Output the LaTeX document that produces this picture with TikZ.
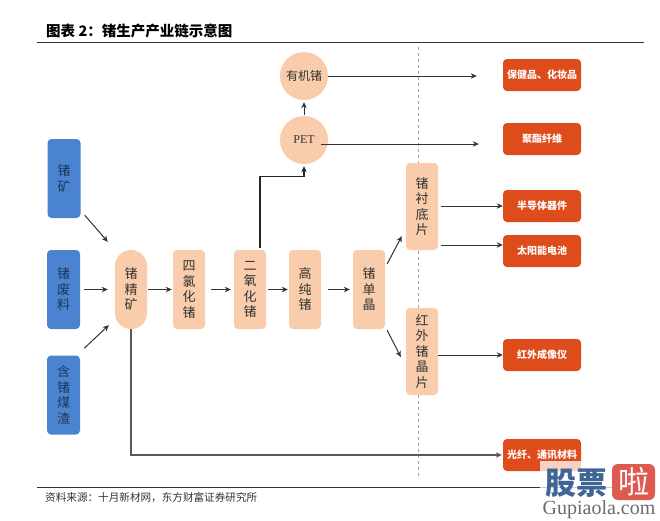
\documentclass[tikz,border=0pt]{standalone}
\usepackage{fontspec}
\setmainfont{Noto Sans CJK SC}
\newfontfamily\latinserif{Liberation Serif}
\usetikzlibrary{arrows.meta}
\definecolor{srcblue}{HTML}{4A84D0}
\definecolor{srctext}{HTML}{1E3558}
\definecolor{peach}{HTML}{F9CDAB}
\definecolor{prodred}{HTML}{DE4C1C}
\definecolor{inkdark}{HTML}{333333}
\definecolor{wmblue}{HTML}{3F6496}
\definecolor{wmred}{HTML}{DD5A50}
\tikzset{
  srcbox/.style={draw=none,fill=srcblue,rounded corners=4pt,minimum width=33pt,minimum height=79pt,inner sep=0pt,align=center,text=srctext,font=\fontsize{13}{15.5}\selectfont},
  stagebox/.style={draw=none,fill=peach,rounded corners=4pt,minimum width=32pt,minimum height=79pt,inner sep=0pt,align=center,text=inkdark,font=\fontsize{13}{15.5}\selectfont},
  tallbox/.style={stagebox,minimum height=87pt},
  capsule/.style={stagebox,rounded corners=15.9pt},
  roundnode/.style={circle,draw=none,fill=peach,minimum size=48pt,inner sep=0pt,text=inkdark,font=\fontsize{12}{14}\selectfont},
  prodbox/.style={draw=none,fill=prodred,rounded corners=4pt,minimum width=78pt,minimum height=32pt,inner sep=0pt,text=white,font=\fontsize{10}{12}\selectfont\bfseries},
  flow/.style={draw=inkdark,line width=1pt,-{Stealth[length=6pt,width=5.5pt]}},
  heavyflow/.style={flow,draw=black!85,line width=1.3pt},
  longflow/.style={flow,draw=black!65,line width=1.1pt},
  rule/.style={draw=inkdark,line width=0.9pt},
}
\begin{document}
\begin{tikzpicture}[x=1pt,y=-1pt]
\useasboundingbox (0,0) rectangle (660,520);
\fill[white] (0,0) rectangle (660,520);
% rules and divider
\coordinate (titleL) at (37,42); \coordinate (titleR) at (644,42);
\coordinate (footL) at (37,487); \coordinate (footR) at (644,487);
\coordinate (divT) at (418.5,47); \coordinate (divB) at (418.5,478);
\draw[rule] (titleL) -- (titleR);
\draw[rule] (footL) -- (footR);
\draw[draw=gray!70,line width=0.7pt,dashed] (divT) -- (divB);
% title and source
\node[anchor=west,inner sep=0pt,font=\fontsize{14.5}{16}\selectfont\bfseries,text=black] (title) at (46,31) {图表 2：锗生产产业链示意图};
\node[anchor=west,inner sep=0pt,font=\fontsize{10.6}{12}\selectfont,text=inkdark] (source) at (45,498) {资料来源：十月新材网，东方财富证券研究所};
% sources
\node[srcbox] (ore) at (64,178.5) {锗\\矿};
\node[srcbox] (scrap) at (63.5,289.5) {锗\\废\\料};
\node[srcbox] (coal) at (63.5,395) {含\\锗\\煤\\渣};
% chain
\node[capsule] (conc) at (131,289.5) {锗\\精\\矿};
\node[stagebox] (tetra) at (189,289.5) {四\\氯\\化\\锗};
\node[stagebox] (dioxide) at (250,289.5) {二\\氧\\化\\锗};
\node[stagebox] (pure) at (305,289.5) {高\\纯\\锗};
\node[stagebox] (crystal) at (369,289.5) {锗\\单\\晶};
\node[tallbox] (substrate) at (422,206.5) {锗\\衬\\底\\片};
\node[tallbox] (irwafer) at (422,351.5) {红\\外\\锗\\晶\\片};
\node[roundnode] (organic) at (304,76) {有机锗};
\node[roundnode] (pet) at (304,140) {\latinserif PET};
% products
\node[prodbox] (health) at (542,75) {保健品、化妆品};
\node[prodbox] (fiber) at (542,139) {聚酯纤维};
\node[prodbox] (semi) at (542,206) {半导体器件};
\node[prodbox] (solar) at (542,251) {太阳能电池};
\node[prodbox] (irimg) at (542,355) {红外成像仪};
\node[prodbox] (optic) at (542,455) {光纤、通讯材料};
% connectors (shift y is measured downward here)
\draw[flow] ([shift={(4,-3)}]ore.south east) -- ([shift={(-7,-8)}]conc.north west);
\draw[flow] ([xshift=4pt]scrap.east) -- ([xshift=-7pt]conc.west);
\draw[flow] ([shift={(4,-7)}]coal.north east) -- ([shift={(-6,-4)}]conc.south west);
\draw[flow] ([xshift=1pt]conc.east) -- ([xshift=-1pt]tetra.west);
\draw[flow] ([xshift=6pt]tetra.east) -- ([xshift=-3pt]dioxide.west);
\draw[flow] ([xshift=2pt]dioxide.east) -- ([xshift=-1pt]pure.west);
\draw[flow] ([xshift=7pt]pure.east) -- ([xshift=-3pt]crystal.west);
\draw[flow] ([shift={(2,14)}]crystal.north east) -- ([shift={(-4,-14)}]substrate.south west);
\draw[flow] ([shift={(2,1)}]crystal.south east) -- ([shift={(-5,5.5)}]irwafer.west);
\draw[heavyflow] ([shift={(10,-2)}]dioxide.north) |- ([shift={(0,12)}]pet.south) -- ([shift={(0,2)}]pet.south);
\draw[flow] ([shift={(0,-1)}]pet.north) -- ([shift={(0,2)}]organic.south);
\draw[flow] (organic.east) -- ([shift={(-26,1)}]health.west);
\draw[flow] ([shift={(-7,4)}]pet.east) -- ([shift={(-24,5)}]fiber.west);
\draw[flow] ([shift={(2.5,0)}]substrate.east |- semi.west) -- (semi.west);
\draw[flow] ([shift={(3,38.5)}]substrate.east) -- ([shift={(0,-6)}]solar.west);
\draw[flow] (irwafer.east |- irimg.west) -- (irimg.west);
\draw[longflow] (conc.south) |- ([shift={(-1,0)}]optic.west);
% watermark
\fill[white,opacity=.75] (540,461) rectangle (660,520);
\node[inner sep=0pt,font=\fontsize{31}{31}\selectfont\bfseries,text=wmblue] (wmtext) at (576,483) {股票};
\node[rounded corners=6pt,fill=wmred,text=white,inner sep=0pt,minimum width=43pt,minimum height=36pt,font=\fontsize{31}{31}\selectfont] (wmbadge) at (633.5,482) {啦};
\node[inner sep=0pt,font=\latinserif\fontsize{20}{22}\selectfont,text=gray!85!black] (wmurl) at (599,510) {Gupiaola.com};
\end{tikzpicture}
\end{document}
